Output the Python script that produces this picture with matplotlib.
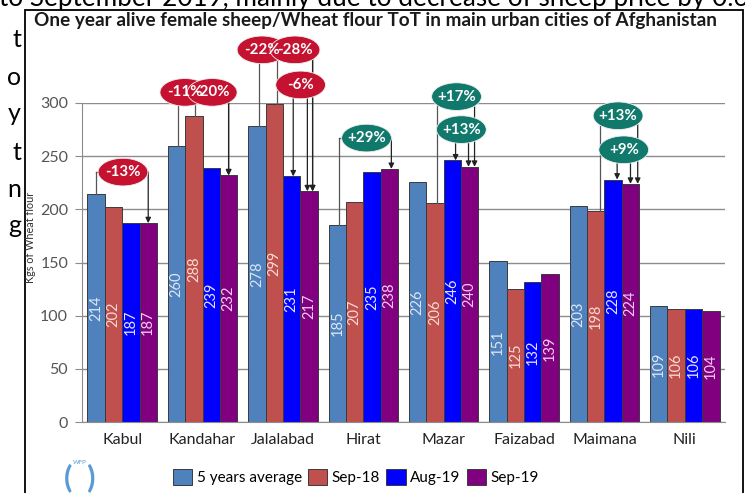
import matplotlib
matplotlib.use("Agg")
import matplotlib.pyplot as plt
import numpy as np
from matplotlib.patches import Ellipse, Rectangle, Patch

# ------------------------------------------------
#  Data
# ------------------------------------------------
cities = ["Kabul", "Kandahar", "Jalalabad", "Hirat", "Mazar", "Faizabad", "Maimana", "Nili"]
series_names = ["5 years average", "Sep-18", "Aug-19", "Sep-19"]
avg_5y = [214, 260, 278, 185, 226, 151, 203, 109]
sep_18 = [202, 288, 299, 207, 206, 125, 198, 106]
aug_19 = [187, 239, 231, 235, 246, 132, 228, 106]
sep_19 = [187, 232, 217, 238, 240, 139, 224, 104]

# change call-outs: (city, text)
callout_city = [0, 1, 1, 2, 2, 2, 3, 4, 4, 6, 6]
callout_text = ["-13%", "-11%", "-20%", "-22%", "-28%", "-6%", "+29%", "+17%", "+13%", "+13%", "+9%"]

# ------------------------------------------------
#  Style
# ------------------------------------------------
plt.rcParams["font.family"] = ["Lato", "DejaVu Sans"]

COLORS = ["#4F81BD", "#C0504D", "#0000FF", "#800080"]
LABEL_COLORS = ["#DCE6F4", "#F8DAD4", "#E4E4FF", "#F6CCF2"]
RED_OVAL = "#C41230"
GREEN_OVAL = "#10796B"
GRID = "#8C8C8C"

W, H = 745, 493
fig = plt.figure(figsize=(W / 100, H / 100), dpi=100)


def fx(px):
    return px / W


def fy(py):
    return 1 - py / H


# text of the surrounding document (cut by the chart frame)
fig.text(fx(-1), fy(6), "to September 2019, mainly due to decrease of sheep price by 0.6%",
         fontsize=18.8, color="black", va="baseline", ha="left", zorder=0)
for ch, yb in zip(["t", "o", "y", "t", "n", "g"], [47, 85, 121, 160, 197, 233]):
    fig.text(fx(21), fy(yb), ch, fontsize=18, ha="right", va="baseline", zorder=0)

# chart frame
fig.patches.append(Rectangle((fx(25), fy(496)), fx(743 - 25), fy(10) - fy(496),
                             transform=fig.transFigure, facecolor="white",
                             edgecolor="black", linewidth=1.3, zorder=1))

fig.text(fx(375), fy(26), "One year alive female sheep/Wheat flour ToT in main urban cities of Afghanistan",
         fontsize=13.6, fontweight="bold", ha="center", va="baseline", color="#1a1a1a", zorder=3)

ax = fig.add_axes([fx(82), fy(422), fx(725 - 82), fy(103) - fy(422)])
ax.set_zorder(2)
ax.patch.set_alpha(0)

x = np.arange(len(cities))
bw = 0.216
values = [avg_5y, sep_18, aug_19, sep_19]
offsets = [(k - 1.5) * bw for k in range(4)]

for k, vals in enumerate(values):
    bars = ax.bar(x + offsets[k], vals, width=bw, color=COLORS[k], edgecolor="#3a3a3a",
                  linewidth=0.7, label=series_names[k], zorder=2)
    for b, v in zip(bars, vals):
        ax.text(b.get_x() + b.get_width() / 2, v / 2, str(v), rotation=90,
                ha="center", va="center", fontsize=10.5, color=LABEL_COLORS[k], zorder=3)

ax.set_xlim(-0.5, len(cities) - 0.5)
ax.set_ylim(0, 300)
ax.set_yticks(np.arange(0, 301, 50))
ax.yaxis.grid(True, color=GRID, linewidth=1.0)
ax.set_axisbelow(True)
ax.tick_params(axis="y", length=5, color=GRID, labelsize=11.5, labelcolor="#555555", pad=5)
ax.tick_params(axis="x", length=0, labelsize=11.5, labelcolor="#222222", pad=8)
ax.set_xticks(x)
ax.set_xticklabels(cities)
for s in ["top", "right"]:
    ax.spines[s].set_visible(False)
ax.spines["left"].set_color(GRID)
ax.spines["bottom"].set_color(GRID)
ax.set_ylabel("Kgs of Wheat flour", fontsize=7.8, color="#333333")
ax.yaxis.set_label_coords(-0.072, 0.58)


# ------------------------------------------------
#  Call-outs
# ------------------------------------------------
def bar_x(city, k, nudge=0.0):
    return x[city] + offsets[k] + nudge


def value_of(city, k):
    return values[k][city]


# per call-out: oval centre (offset from city centre, value), plain leader sources, arrow targets
callout_layout = [
    (0.01, 235, [(0, 0.0)], [(3, 0.0)]),
    (-0.22, 310, [(0, 0.02)], [(3, 0.0)]),
    (0.12, 310, [(1, 0.02)], [(3, 0.0)]),
    (-0.26, 350, [(0, 0.03)], [(3, 0.045)]),
    (0.15, 350, [(1, 0.03)], [(3, 0.045)]),
    (0.22, 317, [], [(2, 0.02), (3, -0.02)]),
    (0.04, 267, [(0, 0.02)], [(3, 0.025)]),
    (0.16, 306, [(1, 0.03)], [(3, 0.06)]),
    (0.22, 275, [], [(2, 0.04), (3, -0.015)]),
    (0.17, 288, [(1, 0.05)], [(3, 0.09)]),
    (0.24, 256, [], [(2, 0.05), (3, 0.0)]),
]

for city, txt, (dx, cy, sources, targets) in zip(callout_city, callout_text, callout_layout):
    cx = x[city] + dx
    col = RED_OVAL if txt.startswith("-") else GREEN_OVAL
    xs = []
    for k, nud in sources:
        bx = bar_x(city, k, nud)
        xs.append(bx)
        ax.plot([bx, bx], [value_of(city, k), cy], color="#555555", lw=0.9,
                clip_on=False, zorder=4)
    for k, nud in targets:
        bx = bar_x(city, k, nud)
        xs.append(bx)
        ax.annotate("", xy=(bx, value_of(city, k)), xytext=(bx, cy),
                    arrowprops=dict(arrowstyle="-|>", color="#222222", lw=0.9,
                                    mutation_scale=8, shrinkA=0, shrinkB=0),
                    annotation_clip=False, zorder=4)
    if sources:
        ax.plot([min(xs), max(xs)], [cy, cy], color="#555555", lw=0.9, clip_on=False, zorder=4)
    ax.add_patch(Ellipse((cx, cy), 0.62, 26, facecolor=col, edgecolor="#f0f0f0",
                         linewidth=0.6, clip_on=False, zorder=5))
    ax.text(cx, cy, txt, ha="center", va="center", color="white", fontsize=10.8,
            fontweight="bold", zorder=6, clip_on=False)

# ------------------------------------------------
#  Legend
# ------------------------------------------------
handles = [Patch(facecolor=c, edgecolor="#3a3a3a", linewidth=0.7) for c in COLORS]
fig.legend(handles, series_names, loc="center", bbox_to_anchor=(fx(356), fy(477)),
           ncol=4, frameon=False, fontsize=11, handlelength=1.25, handleheight=1.25,
           handletextpad=0.3, columnspacing=0.4)

# small WFP mark
fig.text(fx(80), fy(478), "(  )", fontsize=22, color="#5B9BD5", ha="center", va="center",
         fontweight="bold", zorder=3)
fig.text(fx(80), fy(462), "WFP", fontsize=4.5, color="#5B9BD5", ha="center", va="center", zorder=3)

fig.savefig("out.png", dpi=100)
